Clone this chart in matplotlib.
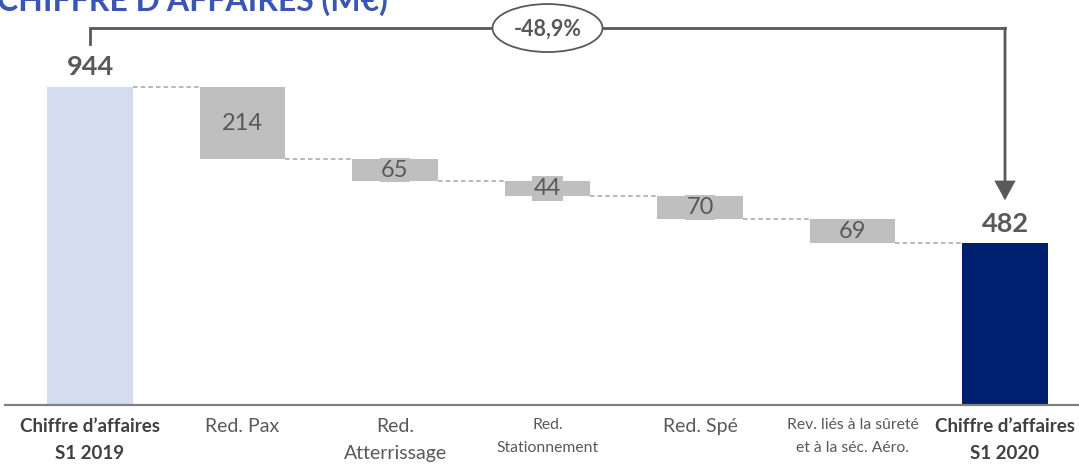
import matplotlib.pyplot as plt
from matplotlib.patches import Ellipse, FancyArrowPatch

# === DATA ===
categories = ["Chiffre d’affaires\nS1 2019", "Red. Pax", "Red.\nAtterrissage",
              "Red.\nStationnement", "Red. Spé",
              "Rev. liés à la sûreté\net à la séc. Aéro.", "Chiffre d’affaires\nS1 2020"]
start_value = 944
deltas = [214, 65, 44, 70, 69]
end_value = 482
change_label = "-48,9%"
title = "CHIFFRE D’AFFAIRES (M€)"

# === STYLE ===
plt.rcParams['font.family'] = ['Lato', 'DejaVu Sans']
GREY_TXT = "#595959"
C_START = "#d6dcf0"
C_DELTA = "#bfbfbf"
C_END = "#001f6e"
W = 0.56

fig = plt.figure(figsize=(10.79, 4.65), dpi=100)
ax = fig.add_axes([0, 60 / 465, 1, 405 / 465])
ax.set_xlim(-90 / 152.5, (1079 - 90) / 152.5)
ax.set_ylim(0, 405 / (318 / 944))
for s in ax.spines.values():
    s.set_visible(False)
ax.set_yticks([])

# === WATERFALL ===
n = len(categories)
xs = list(range(n))
heights, bottoms, colors = [start_value], [0], [C_START]
level = start_value
for d in deltas:
    level -= d
    heights.append(d)
    bottoms.append(level)
    colors.append(C_DELTA)
heights.append(end_value)
bottoms.append(0)
colors.append(C_END)

ax.bar(xs, heights, bottom=bottoms, width=W, color=colors, zorder=2)

# connectors
levels = [start_value] + [b for b in bottoms[1:-1]]
for i, lv in enumerate(levels):
    ax.plot([xs[i] + W / 2, xs[i + 1] - W / 2], [lv, lv], color="#a6a6a6",
            lw=1.1, ls=(0, (3, 2)), zorder=1)

# delta labels
for i, d in enumerate(deltas, start=1):
    ax.text(xs[i], bottoms[i] + d / 2, str(d), ha="center", va="center",
            fontsize=17, color=GREY_TXT, zorder=3,
            bbox=dict(facecolor=C_DELTA, edgecolor="none", pad=1.2))

# totals
ax.text(xs[0], start_value + 60, str(start_value), ha="center", va="center",
        fontsize=19.5, fontweight="bold", color=GREY_TXT)
ax.text(xs[-1], end_value + 55, str(end_value), ha="center", va="center",
        fontsize=19.5, fontweight="bold", color=GREY_TXT)

# baseline
ax.axhline(0, xmin=5 / 1079, xmax=1, color="#808080", lw=1.6, zorder=4, clip_on=False)

# === BRACKET + ARROW ===
y_br = start_value + 175
ax.plot([xs[0], xs[0], xs[-1]], [start_value + 128, y_br, y_br], color=GREY_TXT,
        lw=2, clip_on=False, solid_joinstyle="miter")
arr = FancyArrowPatch((xs[-1], y_br), (xs[-1], end_value + 126),
                      arrowstyle="-|>,head_length=0.55,head_width=0.3",
                      mutation_scale=20, color=GREY_TXT, lw=2, shrinkA=0, shrinkB=0,
                      joinstyle="miter", clip_on=False)
ax.add_patch(arr)
ell = Ellipse((xs[3], y_br), width=110 / 152.5, height=48 / (318 / 944),
              facecolor="white", edgecolor=GREY_TXT, lw=1.3, zorder=5, clip_on=False)
ax.add_patch(ell)
ax.text(xs[3], y_br - 3, change_label, ha="center", va="center", fontsize=15.5,
        fontweight="bold", color=GREY_TXT, zorder=6)

# === X LABELS ===
ax.set_xticks(xs)
ax.set_xticklabels(categories)
ax.tick_params(axis="x", length=0, pad=9)
for i, lbl in enumerate(ax.get_xticklabels()):
    lbl.set_verticalalignment("top")
    lbl.set_color(GREY_TXT)
    lbl.set_linespacing(1.75)
    if i in (0, n - 1):
        lbl.set_fontweight("bold")
        lbl.set_fontsize(13.5)
        lbl.set_color("#404040")
    elif i in (3, 5):
        lbl.set_fontsize(11.3)
        lbl.set_linespacing(1.85)
    else:
        lbl.set_fontsize(14)

# title, cut by the top edge like the source slide
fig.text(-0.003, 1 - 11 / 465, title, ha="left", va="baseline", fontsize=23,
         fontweight="bold", color="#3b55b5")

fig.savefig("out.png", dpi=100)
